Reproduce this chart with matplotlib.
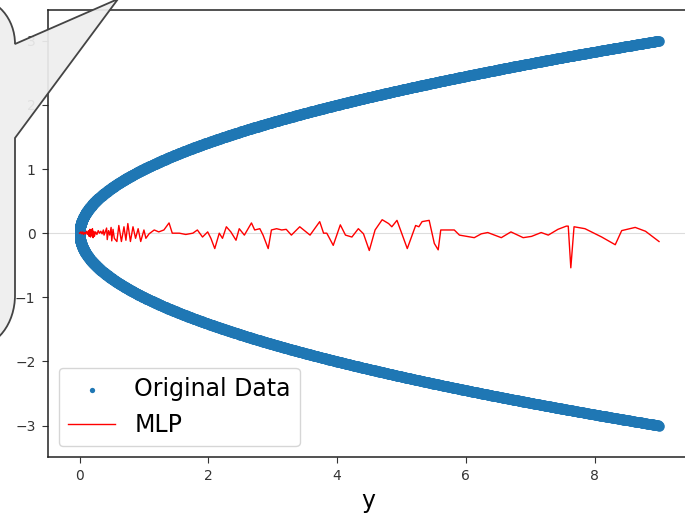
import numpy as np
import matplotlib.pyplot as plt
from matplotlib.path import Path
from matplotlib.patches import PathPatch

# original data: x = y**2 sampled on an even y grid
y_orig = np.linspace(-3, 3, 2500)
x_orig = y_orig ** 2

# MLP predictions along x
mlp_x = [0.00, 0.02, 0.03, 0.05, 0.06, 0.08, 0.09, 0.11, 0.12, 0.14,
         0.15, 0.16, 0.17, 0.18, 0.19, 0.20, 0.21, 0.22, 0.23, 0.25,
         0.27, 0.29, 0.31, 0.33, 0.35, 0.37, 0.38, 0.40, 0.42, 0.43,
         0.45, 0.47, 0.49, 0.50, 0.52, 0.54,
         0.58, 0.61, 0.65, 0.69, 0.72, 0.75, 0.79, 0.83, 0.87, 0.91,
         0.95, 1.00, 1.03, 1.08, 1.16, 1.23, 1.31, 1.39, 1.44, 1.55,
         1.65, 1.76, 1.83, 1.91, 1.99, 2.04, 2.10, 2.17, 2.22, 2.28,
         2.35, 2.43, 2.48, 2.56, 2.67, 2.72, 2.80, 2.85, 2.93, 2.98,
         3.06, 3.14, 3.21, 3.29, 3.37, 3.42, 3.58, 3.73, 3.79, 3.84,
         3.94, 4.05, 4.13, 4.23, 4.33, 4.41, 4.50, 4.59, 4.70, 4.80,
         4.85, 4.93, 5.09, 5.22, 5.27, 5.32, 5.43, 5.51, 5.57, 5.61,
         5.82, 5.90, 6.13, 6.24, 6.34, 6.55, 6.70, 6.89, 7.02, 7.17,
         7.28, 7.43, 7.56, 7.59, 7.63, 7.68, 7.85, 8.11, 8.32, 8.42,
         8.63, 8.79, 9.00]
mlp_y = [0.00, 0.02, -0.01, 0.02, -0.02, 0.01, -0.01, 0.03, -0.02, 0.04,
         -0.05, 0.06, -0.06, 0.05, -0.04, 0.07, -0.07, 0.03, -0.05, 0.02,
         -0.02, 0.04, 0.00, 0.03, -0.01, 0.05, -0.03, 0.02, 0.08, -0.10,
         0.04, -0.03, 0.09, -0.12, 0.06, -0.08,
         -0.13, 0.12, -0.13, 0.10, -0.11, 0.15, -0.13, 0.10, -0.08, 0.07,
         -0.13, 0.05, -0.08, -0.01, 0.05, 0.02, 0.05, 0.16, 0.00, 0.00,
         -0.02, 0.00, 0.05, -0.06, 0.02, -0.08, -0.24, 0.00, -0.08, 0.10,
         0.02, -0.11, 0.07, -0.03, 0.16, 0.05, 0.07, -0.03, -0.24, 0.05,
         0.07, 0.05, 0.06, -0.03, 0.05, 0.10, -0.03, 0.18, 0.00, 0.00,
         -0.19, 0.13, -0.03, -0.06, 0.07, -0.01, -0.27, 0.05, 0.21, 0.15,
         0.10, 0.20, -0.24, 0.12, 0.10, 0.18, 0.20, -0.16, -0.26, 0.05,
         0.05, -0.03, -0.07, -0.01, 0.01, -0.07, 0.02, -0.07, -0.05, 0.01,
         -0.03, 0.06, 0.11, 0.11, -0.54, 0.10, 0.07, -0.06, -0.18, 0.04,
         0.09, 0.03, -0.13]

x_ticks = [0, 2, 4, 6, 8]
y_ticks = [-3, -2, -1, 0, 1, 2, 3]

W, H = 685, 514
fig = plt.figure(figsize=(W / 100, H / 100), dpi=100)
ax = fig.add_axes([48 / W, 1 - 457 / H, 640 / W, 447 / H])

ax.axhline(0, color='#dddddd', lw=0.8, zorder=0)
ax.scatter(x_orig, y_orig, s=58, color='#1f77b4', label='Original Data',
           zorder=2, linewidths=0)
ax.plot(mlp_x, mlp_y, color='red', lw=1.0, label='MLP', zorder=3)

ax.set_xlim(-0.49, 9.45)
ax.set_ylim(-3.49, 3.48)
ax.set_xticks(x_ticks)
ax.set_yticks(y_ticks)
ax.tick_params(labelsize=10, length=4, pad=5, colors='#333333')
ax.set_xlabel('y', fontsize=17, labelpad=4)
for sp in ax.spines.values():
    sp.set_linewidth(1.1)
    sp.set_color('#222222')

ax.legend(loc='lower left', fontsize=17, markerscale=0.5,
          handlelength=2.0, framealpha=0.8, edgecolor='#cccccc',
          borderaxespad=0.45)

# callout bubble on the left edge (pixel coords, y measured from top)
k = 0.5523
cx1, cy1, rx1, ry1 = -25, 44, 40, 46
cx2, cy2, rx2, ry2 = -25, 295, 40, 52
pts = [
    ((-80, -20), Path.MOVETO),
    ((cx1, cy1 - ry1), Path.LINETO),
    ((cx1 + k * rx1, cy1 - ry1), Path.CURVE4),
    ((cx1 + rx1, cy1 - k * ry1), Path.CURVE4),
    ((cx1 + rx1, cy1), Path.CURVE4),
    ((118, -1), Path.LINETO),
    ((15, 138), Path.LINETO),
    ((cx2 + rx2, cy2), Path.LINETO),
    ((cx2 + rx2, cy2 + k * ry2), Path.CURVE4),
    ((cx2 + k * rx2, cy2 + ry2), Path.CURVE4),
    ((cx2, cy2 + ry2), Path.CURVE4),
    ((-80, cy2 + ry2), Path.LINETO),
    ((-80, -20), Path.CLOSEPOLY),
]
verts = [(px / W, 1 - py / H) for (px, py), _ in pts]
codes = [c for _, c in pts]
bubble = PathPatch(Path(verts, codes), transform=fig.transFigure,
                   facecolor=(0.933, 0.933, 0.933, 0.93),
                   edgecolor='#444444', lw=1.3, zorder=10, clip_on=False)
fig.add_artist(bubble)

fig.savefig('out.png', dpi=100)
